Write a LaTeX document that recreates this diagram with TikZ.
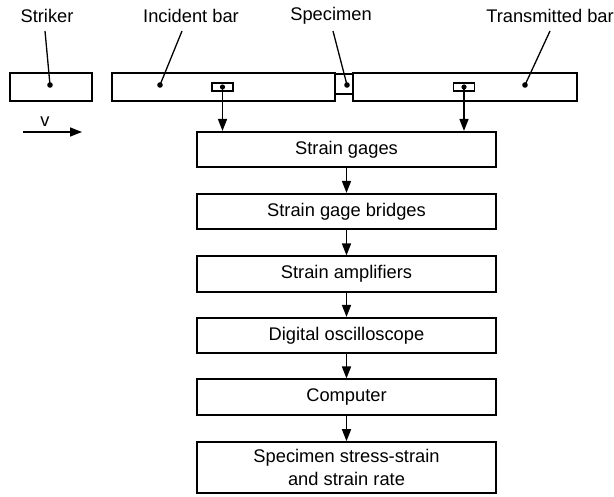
\documentclass[tikz,border=0pt]{standalone}
\usepackage{fontspec}
\setmainfont{Liberation Sans}
\usetikzlibrary{arrows.meta}

\begin{document}
\begin{tikzpicture}[x=1pt,y=-1pt,
        box/.style={draw,line width=1.6pt,minimum width=299pt,minimum height=35.5pt,inner sep=0pt,align=center,font=\fontsize{18.3}{23}\selectfont},
        bar/.style={draw,line width=1.6pt,inner sep=0pt},
        flow/.style={line width=1.5pt,-{Triangle[length=12pt,width=9pt]}},
        lead/.style={line width=1.3pt},
        lbl/.style={inner sep=0pt,font=\fontsize{18.3}{23}\selectfont}]
        \useasboundingbox (0,0) rectangle (614,497);
        % bars
        \node[bar,minimum width=82pt,minimum height=28pt] (striker) at (51,87) {};
        \node[bar,minimum width=223pt,minimum height=28pt] (incident) at (223.5,87) {};
        \node[bar,minimum width=224pt,minimum height=28pt] (transmitted) at (465,87) {};
        \node[bar,line width=1.2pt,minimum width=18pt,minimum height=20pt] (specimen) at (344,84) {};
        \node[bar,line width=1.3pt,minimum width=21pt,minimum height=8pt] (gageA) at (222.5,87) {};
        \node[bar,line width=1.3pt,minimum width=21pt,minimum height=8pt] (gageB) at (464,87) {};
        % labels
        \node[lbl] (lstriker) at (47,15.5) {Striker};
        \node[lbl] (lincident) at (191,15.5) {Incident bar};
        \node[lbl] (lspecimen) at (331,15.5) {Specimen};
        \node[lbl] (ltransmitted) at (550,15.5) {Transmitted bar};
        \coordinate (tstriker) at (45,31);
        \coordinate (tincident) at (182,31);
        \coordinate (tspecimen) at (333,31);
        \coordinate (ttransmitted) at (550,31);
        \coordinate (dstriker) at (50,85);
        \coordinate (dincident) at (160,85);
        \coordinate (dspecimen) at (347,85);
        \coordinate (dtransmitted) at (525,85);
        \foreach \n in {striker,incident,specimen,transmitted} {
                \draw[lead] (t\n) -- (d\n);
                \fill (d\n) circle (2.8pt);
        }
        \fill (gageA.center) circle (2.6pt);
        \fill (gageB.center) circle (2.6pt);
        % velocity
        \node[lbl] (vlbl) at (45,122) {v};
        \coordinate (vstart) at (23,132);
        \coordinate (vend) at (82,132);
        \draw[flow] (vstart) -- (vend);
        % flow chart
        \node[box] (gages) at (346.5,149.5) {Strain gages};
        \node[box] (bridges) at (346.5,211.5) {Strain gage bridges};
        \node[box] (amplifiers) at (346.5,274) {Strain amplifiers};
        \node[box] (scope) at (346.5,335.5) {Digital oscilloscope};
        \node[box] (computer) at (346.5,397) {Computer};
        \node[box,minimum height=51pt] (result) at (346.5,467.5) {Specimen stress-strain\\and strain rate};
        \draw[flow] (gageA.center) -- (gageA.center |- gages.north);
        \draw[flow] (gageB.center) -- (gageB.center |- gages.north);
        \foreach \a/\b in {gages/bridges,bridges/amplifiers,amplifiers/scope,scope/computer,computer/result} {
                \draw[flow] (\a) -- (\b);
        }
\end{tikzpicture}
\end{document}
